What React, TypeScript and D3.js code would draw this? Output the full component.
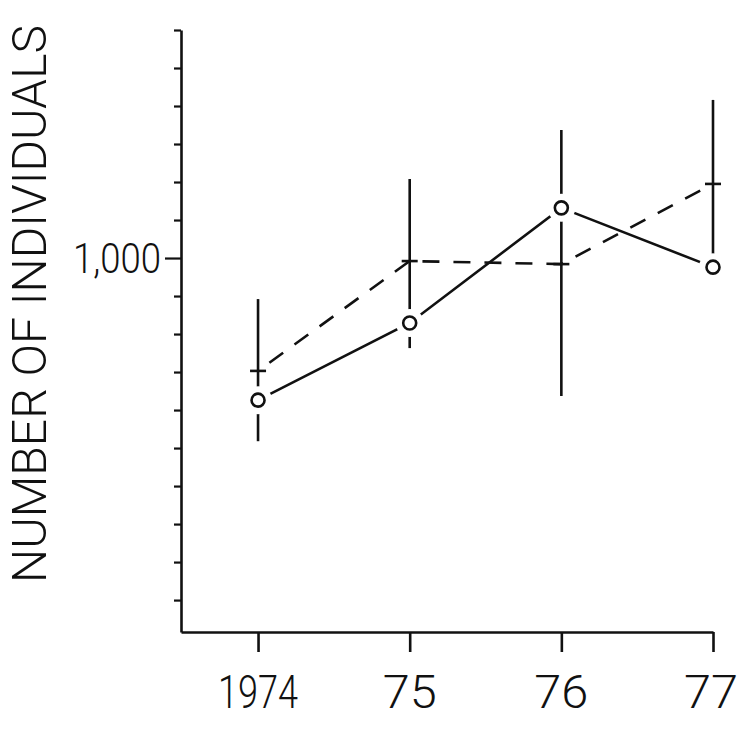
import React, { useEffect, useRef } from "react";
import * as d3 from "d3";

// values
const years = [1974, 1975, 1976, 1977];
const yearLabels = ["1974", "75", "76", "77"];
const circleSeries = [626, 829, 1132, 976];
const crossSeries = [703, 992, 984, 1195];
const barLow = [518, 763, 637, 982];
const barHigh = [892, 1208, 1337, 1416];
const yTicks = [100, 200, 300, 400, 500, 600, 700, 800, 900, 1000, 1100, 1200, 1300, 1400, 1500, 1600];
const yLabelled = [1000];

const W = 737;
const H = 732;
const FONT = "Roboto, 'Liberation Sans', sans-serif";
const INK = "#111";
const SW = 2.6;

export default function App() {
  const ref = useRef<SVGSVGElement>(null);

  useEffect(() => {
    const svg = d3.select(ref.current);
    svg.selectAll("*").remove();

    const x = d3.scaleLinear().domain([1973.492, 1977]).range([181, 713]);
    const y = d3.scaleLinear().domain([16, 1600]).range([632, 30]);

    // y axis
    const gy = svg
      .append("g")
      .attr("transform", "translate(181,0)")
      .call(
        d3
          .axisLeft(y)
          .tickValues(yTicks)
          .tickSize(7)
          .tickSizeOuter(0)
          .tickFormat(() => "")
      );
    gy.select(".domain").attr("stroke", INK).attr("stroke-width", SW);
    gy.selectAll(".tick line")
      .attr("stroke", INK)
      .attr("stroke-width", 2.2)
      .attr("x2", (d: any) => (yLabelled.includes(d) ? -16 : -7));

    svg
      .append("g")
      .selectAll("text")
      .data(yLabelled)
      .enter()
      .append("text")
      .attr("x", 161)
      .attr("y", d => y(d) + 15)
      .attr("text-anchor", "end")
      .attr("font-family", FONT)
      .attr("font-weight", 300)
      .attr("font-size", 42)
      .attr("textLength", 88)
      .attr("lengthAdjust", "spacingAndGlyphs")
      .attr("fill", INK)
      .text(d => d3.format(",")(d));

    // x axis
    const gx = svg
      .append("g")
      .attr("transform", "translate(0,632)")
      .call(
        d3
          .axisBottom(x)
          .tickValues(years)
          .tickSize(20)
          .tickSizeOuter(0)
          .tickFormat(() => "")
      );
    gx.select(".domain").attr("stroke", INK).attr("stroke-width", SW);
    gx.selectAll(".tick line").attr("stroke", INK).attr("stroke-width", SW);

    svg
      .append("g")
      .selectAll("text")
      .data(years)
      .enter()
      .append("text")
      .attr("x", (d, i) => x(d) - (i === 3 ? 2 : 0))
      .attr("y", 708)
      .attr("text-anchor", "middle")
      .attr("font-family", FONT)
      .attr("font-weight", 300)
      .attr("font-size", 46)
      .attr("textLength", (d, i) => (i === 0 ? 80 : 54))
      .attr("lengthAdjust", "spacingAndGlyphs")
      .attr("fill", INK)
      .text((d, i) => yearLabels[i]);

    // y title
    svg
      .append("text")
      .attr("transform", "translate(46,304) rotate(-90)")
      .attr("text-anchor", "middle")
      .attr("font-family", FONT)
      .attr("font-weight", 300)
      .attr("font-size", 48)
      .attr("textLength", 558)
      .attr("lengthAdjust", "spacingAndGlyphs")
      .attr("fill", INK)
      .text("NUMBER OF INDIVIDUALS");

    const plot = svg.append("g");

    // range bars
    plot
      .selectAll(".bar")
      .data(years)
      .enter()
      .append("line")
      .attr("class", "bar")
      .attr("x1", d => x(d))
      .attr("x2", d => x(d))
      .attr("y1", (d, i) => y(barLow[i]))
      .attr("y2", (d, i) => y(barHigh[i]))
      .attr("stroke", INK)
      .attr("stroke-width", SW);

    const line = d3
      .line<number>()
      .x((d, i) => x(years[i]))
      .y(d => y(d));

    plot
      .append("path")
      .attr("d", line(crossSeries))
      .attr("fill", "none")
      .attr("stroke", INK)
      .attr("stroke-width", SW)
      .attr("stroke-dasharray", "17 14")
      .attr("stroke-dashoffset", -14);

    plot
      .append("path")
      .attr("d", line(circleSeries))
      .attr("fill", "none")
      .attr("stroke", INK)
      .attr("stroke-width", SW);

    // cross markers
    plot
      .selectAll(".cross")
      .data(crossSeries)
      .enter()
      .append("line")
      .attr("class", "cross")
      .attr("x1", (d, i) => x(years[i]) - 8)
      .attr("x2", (d, i) => x(years[i]) + 8)
      .attr("y1", d => y(d))
      .attr("y2", d => y(d))
      .attr("stroke", INK)
      .attr("stroke-width", SW);

    // open circles with a white gap around them
    plot
      .selectAll(".gap")
      .data(circleSeries)
      .enter()
      .append("circle")
      .attr("class", "gap")
      .attr("cx", (d, i) => x(years[i]))
      .attr("cy", d => y(d))
      .attr("r", 14)
      .attr("fill", "#fff");

    plot
      .selectAll(".dot")
      .data(circleSeries)
      .enter()
      .append("circle")
      .attr("class", "dot")
      .attr("cx", (d, i) => x(years[i]))
      .attr("cy", d => y(d))
      .attr("r", 6.5)
      .attr("fill", "#fff")
      .attr("stroke", INK)
      .attr("stroke-width", SW);
  }, []);

  return (
    <svg
      ref={ref}
      width={W}
      height={H}
      style={{ position: "absolute", left: 0, top: 0, background: "#fff", display: "block" }}
    />
  );
}
